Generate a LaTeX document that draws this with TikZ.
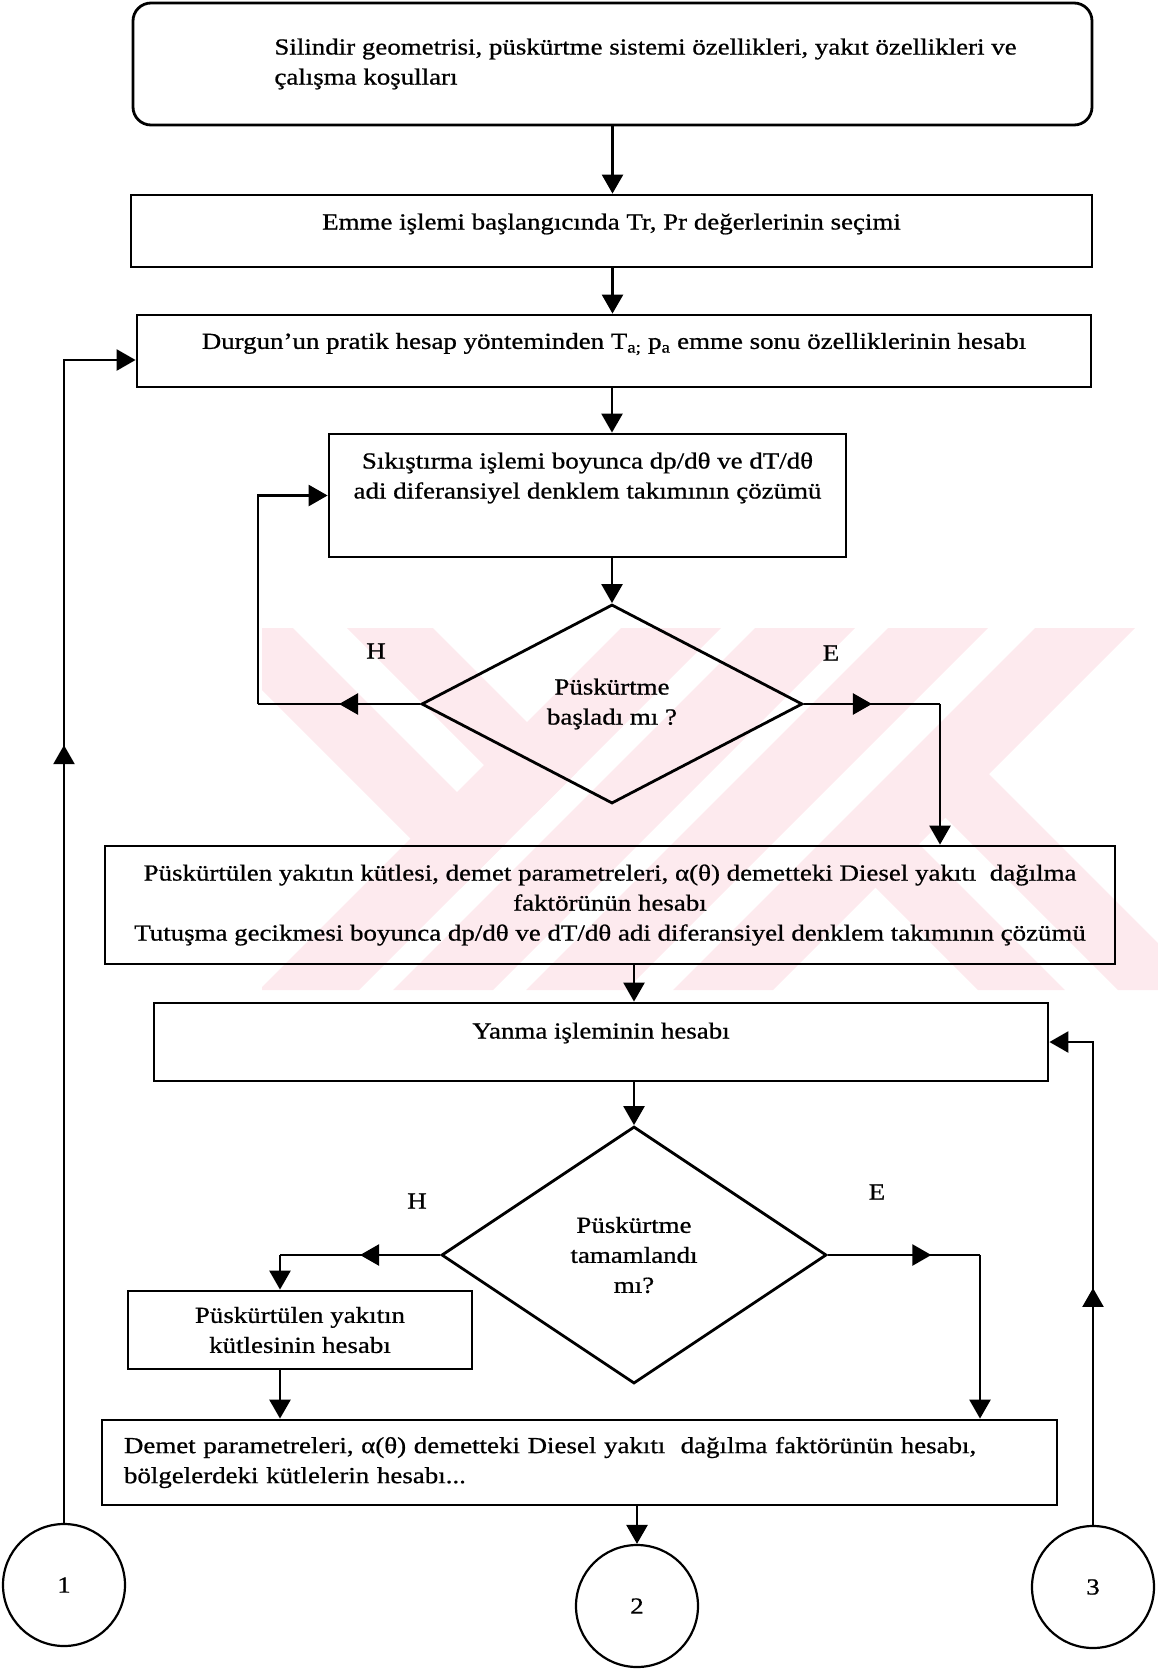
\documentclass[tikz,border=0pt]{standalone}
\usepackage{fontspec}
\setmainfont{Liberation Serif}[FakeStretch=1.17,FakeBold=0.8]
\usetikzlibrary{arrows.meta,shapes.geometric,decorations.markings}
\definecolor{wmpink}{RGB}{253,234,238}
\newcommand{\liftby}[2]{\raisebox{#1}[\height][\depth]{#2}}

\begin{document}
\begin{tikzpicture}[x=1pt, y=-1pt, >={Triangle[length=19pt,width=21pt]}, line width=2.5pt,
  every node/.style={font=\fontsize{23}{30}\selectfont},
  box/.style={draw, rectangle, line width=2.8pt, inner sep=0pt, align=center},
  ask/.style={draw, diamond, line width=2.8pt, inner sep=0pt, aspect=1.9, align=center},
  endpt/.style={draw, circle, line width=2.2pt, inner sep=0pt, minimum size=122pt},
  midtip/.style={postaction={decorate}, decoration={markings, mark=at position #1 with {\arrow{Triangle[length=19pt,width=21pt]}}}}]
\useasboundingbox (0,0) rectangle (1158,1674);
% faint watermark behind the chart
\begin{scope}
\clip (262,628) rectangle (1158,990);
\foreach \a in {621,755,888,1035} \fill[wmpink] (\a,628) -- ++(100,0) -- ++(-362,362) -- ++(-100,0) -- cycle;
\begin{scope}
\clip (0,0) -- (1349,0) -- (0,1349) -- cycle;
\foreach \a/\w in {200/93,347/86} \fill[wmpink] (\a,628) -- ++(\w,0) -- ++(362,362) -- ++(-\w,0) -- cycle;
\end{scope}
\begin{scope}
\clip (1675,0) -- (3000,0) -- (3000,3000) -- (0,3000) -- (0,1675) -- cycle;
\foreach \a/\w in {616/87,756/87} \fill[wmpink] (\a,628) -- ++(\w,0) -- ++(362,362) -- ++(-\w,0) -- cycle;
\end{scope}
\end{scope}
% boxes
\node[box, rounded corners=18pt, minimum width=959pt, minimum height=122pt, align=left] (b1) at (612.5,64) {\hspace*{66pt}Silindir geometrisi, püskürtme sistemi özellikleri, yakıt özellikleri ve\\\hspace*{66pt}çalışma koşulları};
\node[box, minimum width=961pt, minimum height=72pt] (b2) at (611.5,231) {\liftby{7pt}{Emme işlemi başlangıcında Tr, Pr değerlerinin seçimi}};
\node[box, minimum width=954pt, minimum height=72pt] (b3) at (614,351) {\liftby{7pt}{Durgun’un pratik hesap yönteminden T\textsubscript{a;} p\textsubscript{a} emme sonu özelliklerinin hesabı}};
\node[box, minimum width=517pt, minimum height=123pt] (b4) at (587.5,495.5) {\liftby{18pt}{\begin{tabular}{@{}c@{}}Sıkıştırma işlemi boyunca dp/dθ ve dT/dθ\\adi diferansiyel denklem takımının çözümü\end{tabular}}};
\node[ask, minimum width=381pt, minimum height=199pt] (d1) at (612,704) {Püskürtme\\başladı mı ?};
\node[box, minimum width=1010pt, minimum height=118pt] (b5) at (610,905) {Püskürtülen yakıtın kütlesi, demet parametreleri, α(θ) demetteki Diesel yakıtı\ \ dağılma\\faktörünün hesabı\\Tutuşma gecikmesi boyunca dp/dθ ve dT/dθ adi diferansiyel denklem takımının çözümü};
\node[box, minimum width=894pt, minimum height=78pt] (b6) at (601,1042) {\liftby{9pt}{Yanma işleminin hesabı}};
\node[ask, minimum width=385pt, minimum height=257pt] (d2) at (634,1255) {Püskürtme\\tamamlandı\\mı?};
\node[box, minimum width=344pt, minimum height=78pt] (b7) at (300,1330) {Püskürtülen yakıtın\\kütlesinin hesabı};
\node[box, minimum height=85pt, text width=911pt, inner xsep=22pt, align=left] (b8) at (579.5,1462.5) {Demet parametreleri, α(θ) demetteki Diesel yakıtı\ \ dağılma faktörünün hesabı,\\bölgelerdeki kütlelerin hesabı...};
\node[endpt] (c1) at (64,1585) {1};
\node[endpt] (c2) at (637,1606) {2};
\node[endpt] (c3) at (1093,1587) {3};
% yes / no labels
\node (h1) at (376,651) {H};\node (e1) at (831,653) {E};
\node (h2) at (417,1201) {H};\node (e2) at (877,1192) {E};
\coordinate (lw1) at (258,704);\coordinate (rw1) at (940,704);
\coordinate (lw2) at (280,1255);\coordinate (rw2) at (980,1255);
% straight flow
\draw[->] (b1.south) -- (b1.south |- b2.north);
\draw[->] (b2.south -| b1.south) -- (b1.south |- b3.north);
\draw[->] (b3.south -| d1.north) -- (d1.north |- b4.north);
\draw[->] (b4.south -| d1.north) -- (d1.north);
\draw[->] (b5.south -| d2.north) -- (d2.north |- b6.north);
\draw[->] (b6.south -| d2.north) -- (d2.north);
\draw[->] (b8.south -| c2.north) -- (c2.north);
% branches
\draw[midtip=0.5] (d1.west) -- (lw1);\draw[->] (lw1) |- (b4.west);
\draw[midtip=0.5] (d1.east) -- (rw1);\draw[->] (rw1) -- (rw1 |- b5.north);
\draw[midtip=0.5] (d2.west) -- (lw2);\draw[->] (lw2) -- (lw2 |- b7.north);
\draw[->] (lw2 |- b7.south) -- (lw2 |- b8.north);
\draw[midtip=0.68] (d2.east) -- (rw2);\draw[->] (rw2) -- (rw2 |- b8.north);
% connectors back from the circles
\draw[->, midtip=0.63] (c1.north) |- ([yshift=-9pt]b3.west);
\draw[->, midtip=0.45] (c3.north) |- (b6.east);
\end{tikzpicture}
\end{document}
